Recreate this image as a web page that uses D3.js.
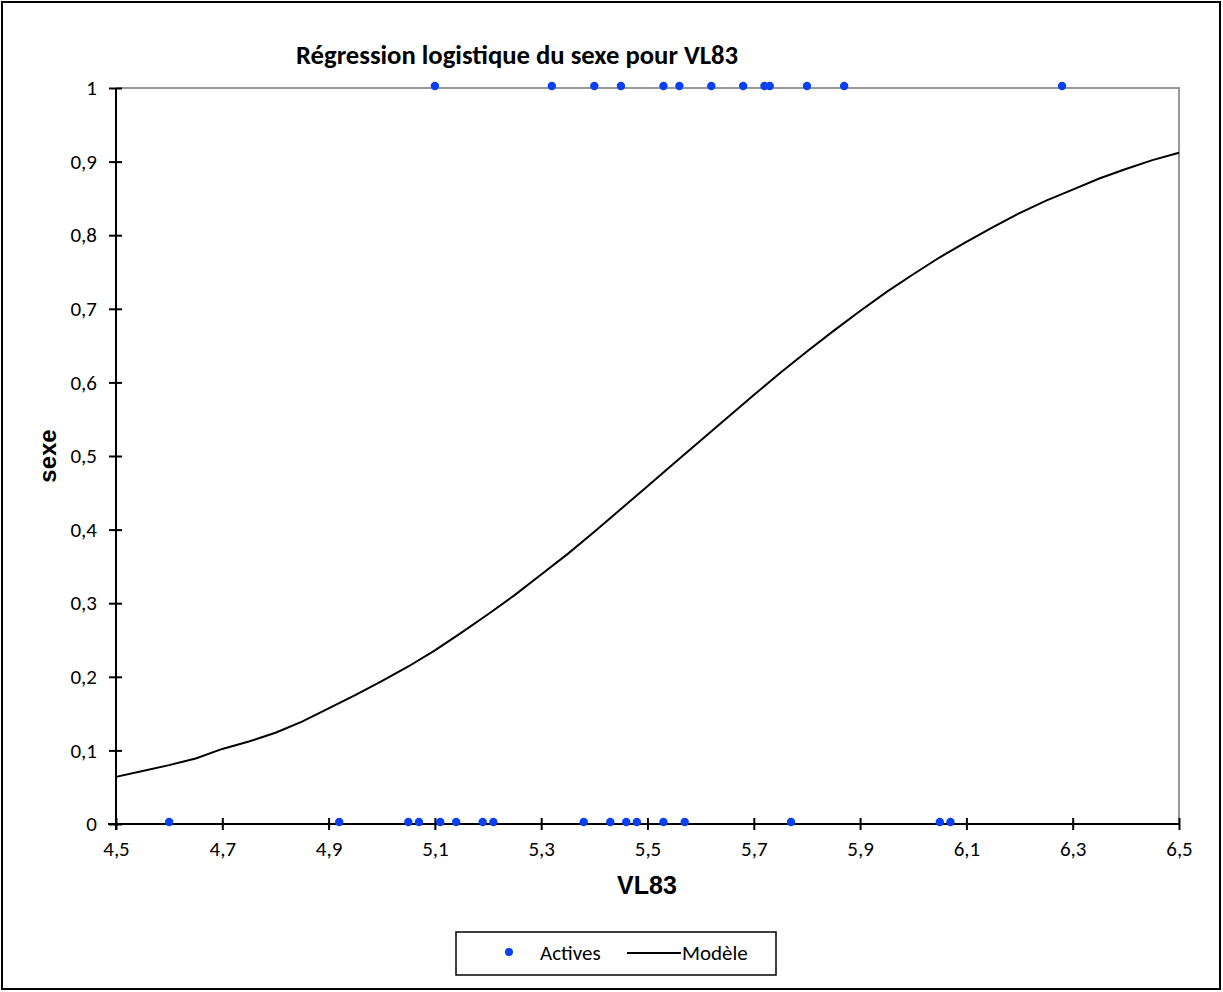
<!DOCTYPE html>
<html>
<head>
<meta charset="utf-8">
<script src="https://cdn.jsdelivr.net/npm/d3@7"></script>
<style>
  html, body { margin: 0; padding: 0; background: #fff; }
  svg { display: block; }
</style>
</head>
<body>
<div id="chart"></div>
<script>
// observations, sexe = 1
const activesX1 = [5.10, 5.32, 5.40, 5.45, 5.53, 5.56, 5.62, 5.68, 5.72, 5.73, 5.80, 5.87, 6.28];
// observations, sexe = 0
const activesX0 = [4.60, 4.92, 5.05, 5.07, 5.11, 5.14, 5.19, 5.21, 5.38, 5.43, 5.46, 5.48, 5.53, 5.57, 5.77, 6.05, 6.07];

// model curve
const modelX = [4.50, 4.55, 4.60, 4.65, 4.70, 4.75, 4.80, 4.85, 4.90, 4.95,
                5.00, 5.05, 5.10, 5.15, 5.20, 5.25, 5.30, 5.35, 5.40, 5.45,
                5.50, 5.55, 5.60, 5.65, 5.70, 5.75, 5.80, 5.85, 5.90, 5.95,
                6.00, 6.05, 6.10, 6.15, 6.20, 6.25, 6.30, 6.35, 6.40, 6.45, 6.50];
const modelY = [0.064, 0.072, 0.080, 0.089, 0.102, 0.112, 0.124, 0.139, 0.157, 0.175,
                0.194, 0.214, 0.236, 0.260, 0.285, 0.311, 0.339, 0.367, 0.397, 0.428,
                0.459, 0.490, 0.521, 0.552, 0.583, 0.613, 0.642, 0.670, 0.697, 0.723,
                0.747, 0.770, 0.791, 0.811, 0.830, 0.847, 0.862, 0.877, 0.890, 0.902, 0.912];

const xTicks = [4.5, 4.7, 4.9, 5.1, 5.3, 5.5, 5.7, 5.9, 6.1, 6.3, 6.5];
const yTicks = [0, 0.1, 0.2, 0.3, 0.4, 0.5, 0.6, 0.7, 0.8, 0.9, 1];

const width = 1223;
const height = 992;
const margin = { left: 116, right: 1223 - 1179, top: 88, bottom: 992 - 824 };
const fmt = (d) => String(d).replace(".", ",");
const tickFont = "Carlito, 'Open Sans', 'Liberation Sans', sans-serif";
const blue = "#0a40f5";

const svg = d3.select("#chart")
  .append("svg")
  .attr("width", width)
  .attr("height", height);

// outer frame
svg.append("rect")
  .attr("x", 2).attr("y", 2)
  .attr("width", width - 5).attr("height", height - 5)
  .attr("fill", "#fff")
  .attr("stroke", "#000")
  .attr("stroke-width", 2);

const x = d3.scaleLinear().domain([4.5, 6.5]).range([margin.left, width - margin.right]);
const y = d3.scaleLinear().domain([0, 1]).range([height - margin.bottom, margin.top]);

// plot area border (top and right, grey)
svg.append("path")
  .attr("d", `M${x(4.5)},${y(1)}H${x(6.5)}V${y(0)}`)
  .attr("fill", "none")
  .attr("stroke", "#999")
  .attr("stroke-width", 2);

// axes
const xAxis = svg.append("g")
  .attr("transform", `translate(0,${y(0)})`)
  .call(d3.axisBottom(x).tickValues(xTicks).tickFormat(fmt).tickSize(6).tickPadding(11));
xAxis.selectAll(".tick line").attr("y1", -6).attr("stroke-width", 2);
xAxis.select(".domain").attr("stroke-width", 2).attr("d", `M${x(4.5) - 8},0H${x(6.5)}`);

const yAxis = svg.append("g")
  .attr("transform", `translate(${x(4.5)},0)`)
  .call(d3.axisLeft(y).tickValues(yTicks).tickFormat(fmt).tickSize(6).tickPadding(13));
yAxis.selectAll(".tick line").attr("x1", -7).attr("x2", 6).attr("stroke-width", 2);
yAxis.select(".domain").attr("stroke-width", 2).attr("d", `M0,${y(1)}V${y(0) + 6}`);

svg.selectAll(".tick text")
  .attr("font-family", tickFont)
  .attr("font-size", 21)
  .attr("fill", "#000");

// model curve
const line = d3.line()
  .x((d, i) => x(modelX[i]))
  .y((d) => y(d));

svg.append("path")
  .datum(modelY)
  .attr("d", line)
  .attr("fill", "none")
  .attr("stroke", "#000")
  .attr("stroke-width", 2);

// observed points
const pts = activesX1.map((v) => ({ x: v, y: 1 }))
  .concat(activesX0.map((v) => ({ x: v, y: 0 })));

svg.selectAll("circle.pt")
  .data(pts)
  .enter()
  .append("circle")
  .attr("class", "pt")
  .attr("cx", (d) => x(d.x))
  .attr("cy", (d) => y(d.y) - 2)
  .attr("r", 4.2)
  .attr("fill", blue);

// titles
svg.append("text")
  .attr("x", 517).attr("y", 64)
  .attr("text-anchor", "middle")
  .attr("font-family", tickFont)
  .attr("font-weight", "bold")
  .attr("font-size", 26.7)
  .text("Régression logistique du sexe pour VL83");

svg.append("text")
  .attr("x", 647).attr("y", 894)
  .attr("text-anchor", "middle")
  .attr("font-family", "'Liberation Sans', Arial, sans-serif")
  .attr("font-weight", "bold")
  .attr("font-size", 25)
  .text("VL83");

svg.append("text")
  .attr("transform", "translate(56,456) rotate(-90)")
  .attr("text-anchor", "middle")
  .attr("font-family", "'Liberation Sans', Arial, sans-serif")
  .attr("font-weight", "bold")
  .attr("font-size", 24)
  .text("sexe");

// legend
const legend = svg.append("g").attr("transform", "translate(456,932)");
legend.append("rect")
  .attr("width", 320).attr("height", 43)
  .attr("fill", "#fff")
  .attr("stroke", "#000")
  .attr("stroke-width", 1.5);
legend.append("circle")
  .attr("cx", 53).attr("cy", 20).attr("r", 4)
  .attr("fill", blue);
legend.append("text")
  .attr("x", 84).attr("y", 28)
  .attr("font-family", tickFont)
  .attr("font-size", 21)
  .text("Actives");
legend.append("line")
  .attr("x1", 171).attr("x2", 225)
  .attr("y1", 21).attr("y2", 21)
  .attr("stroke", "#000")
  .attr("stroke-width", 2);
legend.append("text")
  .attr("x", 226).attr("y", 28)
  .attr("font-family", tickFont)
  .attr("font-size", 21)
  .text("Modèle");
</script>
</body>
</html>
